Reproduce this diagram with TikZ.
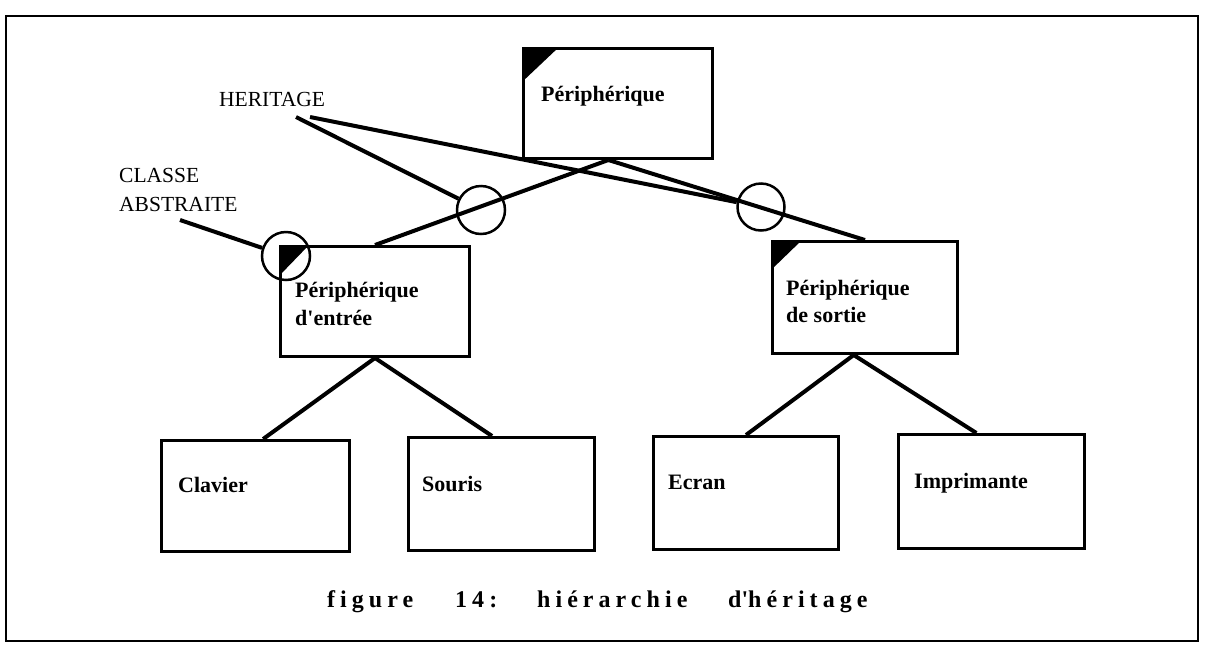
\documentclass[tikz,border=0pt]{standalone}
\usepackage{fontspec}
\setmainfont{Liberation Serif}
\usetikzlibrary{calc}
\begin{document}
\begin{tikzpicture}[x=1pt,y=-1pt,
  classbox/.style={draw, line width=3pt, rectangle, inner sep=0pt, anchor=north west},
  corner/.style={fill=black},
  link/.style={line width=4pt},
  ring/.style={draw, circle, line width=2.5pt, inner sep=0pt, minimum size=48pt},
  lbl/.style={anchor=base west, inner sep=0pt, font=\bfseries\fontsize{22}{26}\selectfont},
  note/.style={anchor=base west, inner sep=0pt, font=\fontsize{21.5}{25}\selectfont},
  capt/.style={anchor=base west, inner sep=0pt, font=\bfseries\fontsize{24}{28}\selectfont\addfontfeatures{LetterSpace=21}}
]
\useasboundingbox (0,0) rectangle (1209,646);
\draw[line width=2.8pt] (6,16) rectangle (1198,641);

% boxes
\node[classbox, minimum width=189pt, minimum height=110pt] (top) at (522,47) {};
\node[classbox, minimum width=189pt, minimum height=110pt] (inp) at (279,245) {};
\node[classbox, minimum width=185pt, minimum height=112pt] (outp) at (771,240) {};
\node[classbox, minimum width=188pt, minimum height=111pt] (clav) at (160,439) {};
\node[classbox, minimum width=186pt, minimum height=113pt] (sour) at (407,436) {};
\node[classbox, minimum width=185pt, minimum height=113pt] (ecr) at (652,435) {};
\node[classbox, minimum width=186pt, minimum height=114pt] (impr) at (897,433) {};

% abstract-class corners
\fill[corner] (top.north west) -- ++(37,0) -- ++(-37,35) -- cycle;
\fill[corner] (inp.north west) -- ++(30,0) -- ++(-30,31) -- cycle;
\fill[corner] (outp.north west) -- ++(31,0) -- ++(-31,30) -- cycle;

% texts
\node[lbl] (ttop) at (541,101) {Périphérique};
\node[lbl] (tinp1) at (295,297) {Périphérique};
\node[lbl] (tinp2) at (295,325) {d\textquotesingle entrée};
\node[lbl] (toutp1) at (786,295) {Périphérique};
\node[lbl] (toutp2) at (786,322) {de sortie};
\node[lbl] (tclav) at (178,492) {Clavier};
\node[lbl] (tsour) at (422,491) {Souris};
\node[lbl] (tecr) at (668,489) {Ecran};
\node[lbl] (timpr) at (914,488) {Imprimante};

\node[note] (her) at (219,106) {HERITAGE};
\node[note] (cls1) at (119,182) {CLASSE};
\node[note] (cls2) at (119,211) {ABSTRAITE};

% connectors
\coordinate (tb) at ($(top.south west)!0.45!(top.south east)$);
\coordinate (ob) at ($(outp.south west)!0.44!(outp.south east)$);
\draw[link] (tb) -- (inp.north);
\draw[link] (tb) -- (outp.north);
\draw[link] (inp.south) -- ($(clav.north west)!0.54!(clav.north east)$);
\draw[link] (inp.south) -- ($(sour.north west)!0.45!(sour.north east)$);
\draw[link] (ob) -- (ecr.north);
\draw[link] (ob) -- ($(impr.north west)!0.42!(impr.north east)$);

% circles
\node[ring] (c1) at (481,210) {};
\node[ring, minimum size=47pt] (c2) at (761,207) {};
\node[ring] (c3) at (286,256) {};

% annotation lines
\coordinate (h1) at (296,117);
\coordinate (h2) at (310,117);
\coordinate (ca) at (180,220);
\draw[link] (h1) -- (c1);
\draw[link] (h2) -- (c2);
\draw[link] (ca) -- (c3);

% caption
\node[capt] (cap) at (327,607) {\makebox[128pt][l]{figure}\makebox[82pt][l]{14:}\makebox[191pt][l]{hiérarchie}d\textquotesingle héritage};
\end{tikzpicture}
\end{document}
